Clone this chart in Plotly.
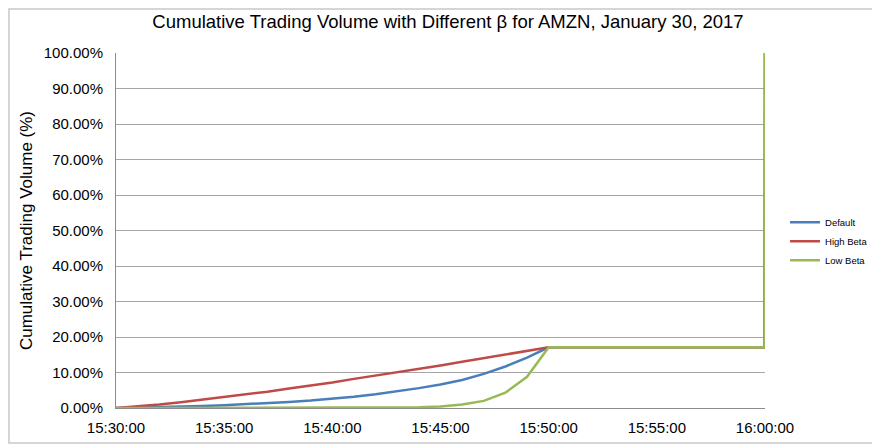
import plotly.graph_objects as go

# minute offsets from 15:30:00 (sampled at each minute up to 15:50)
minutes = list(range(0, 21))
default_pct = [0, 0.1, 0.2, 0.35, 0.55, 0.8, 1.05, 1.35, 1.7, 2.1, 2.6,
               3.2, 3.9, 4.7, 5.6, 6.6, 7.9, 9.6, 11.7, 14.2, 17.1]
high_beta_pct = [0, 0.4, 0.97, 1.6, 2.3, 3.0, 3.8, 4.6, 5.5, 6.3, 7.2,
                 8.2, 9.1, 10.0, 11.0, 12.0, 13.0, 14.0, 15.1, 16.1, 17.1]
low_beta_pct = [0, 0, 0, 0, 0, 0, 0, 0, 0, 0.01, 0.01,
                0.02, 0.05, 0.1, 0.2, 0.45, 1.0, 2.0, 4.3, 8.8, 17.1]

# after 15:50 the volume stays flat, then jumps to 100% at the close
flat_pct = 17.1
close_pct = 100.0

TITLE = "Cumulative Trading Volume with Different β for AMZN, January 30, 2017"
FONT = "Liberation Sans, Arial, sans-serif"


def stamp(m):
    h = 15 + (30 + int(m)) // 60
    mm = (30 + int(m)) % 60
    return f"2017-01-30 {h:02d}:{mm:02d}:00"


def build_series(vals):
    xs = [stamp(m) for m in minutes]
    ys = [v / 100 for v in vals]
    xs += ["2017-01-30 15:59:59", "2017-01-30 16:00:00"]
    ys += [flat_pct / 100, close_pct / 100]
    return xs, ys


fig = go.Figure()

series = [
    ("Default", default_pct, "#4a7ebb"),
    ("High Beta", high_beta_pct, "#be4b48"),
    ("Low Beta", low_beta_pct, "#98b954"),
]
for name, vals, color in series:
    xs, ys = build_series(vals)
    fig.add_trace(go.Scatter(x=xs, y=ys, mode="lines", name=name,
                             line=dict(color=color, width=2.5)))

fig.update_xaxes(range=["2017-01-30 15:30:00", "2017-01-30 16:00:00"],
                 tickformat="%H:%M:%S", dtick=300000,
                 tick0="2017-01-30 15:30:00",
                 showgrid=False, showline=True, linecolor="#8c8c8c",
                 linewidth=1, ticks="outside", ticklen=6,
                 tickcolor="rgba(0,0,0,0)",
                 tickfont=dict(size=15, color="#000"))
fig.update_yaxes(range=[0, 1], dtick=0.1, tickformat=".2%",
                 showgrid=True, gridcolor="#a6a6a6", gridwidth=1,
                 showline=True, linecolor="#8c8c8c", linewidth=1,
                 zeroline=False, ticks="outside", ticklen=9,
                 tickcolor="rgba(0,0,0,0)",
                 tickfont=dict(size=15, color="#000"),
                 title=dict(text="Cumulative Trading Volume (%)",
                            font=dict(size=17, color="#000"), standoff=6))

fig.update_layout(
    width=880, height=445,
    margin=dict(l=108, r=123, t=45, b=45, autoexpand=False),
    paper_bgcolor="white", plot_bgcolor="white",
    font=dict(family=FONT, color="#000"),
    title=dict(text=TITLE, x=0.5, xanchor="center", y=0.9685,
               yanchor="middle", font=dict(size=18.5, color="#000")),
    legend=dict(xref="container", yref="container", x=0.883, y=0.476,
                xanchor="left", yanchor="middle",
                font=dict(size=9.5), itemwidth=30, tracegroupgap=0),
    shapes=[dict(type="rect", xref="paper", yref="paper",
                 x0=-0.1649, x1=1.1695, y0=-0.0986, y1=1.124,
                 line=dict(color="#c8c8c8", width=1.5))],
)

fig.write_html("out.html")
